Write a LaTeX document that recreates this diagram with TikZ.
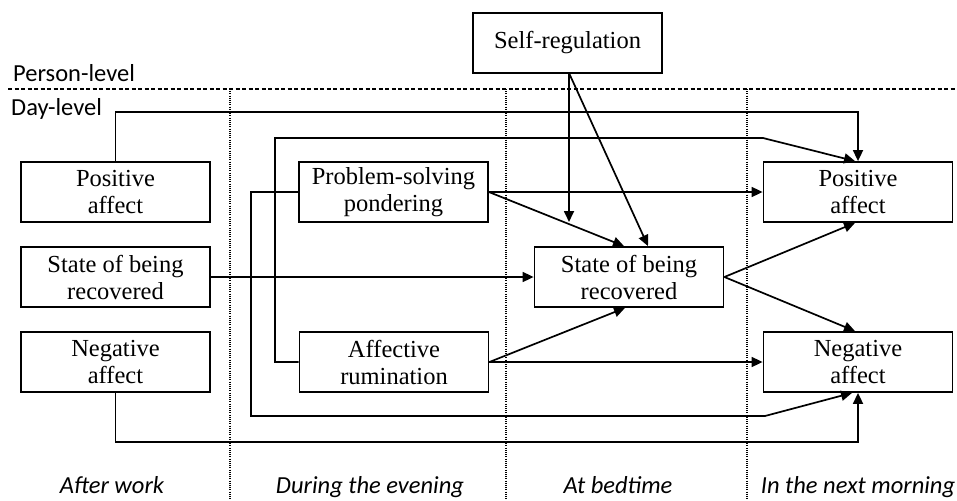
\documentclass[tikz,border=0pt]{standalone}
\usepackage{fontspec}
\setmainfont{Liberation Serif}
\newfontfamily\calfont{Carlito}
\usetikzlibrary{arrows.meta}
\begin{document}
\begin{tikzpicture}[x=1pt,y=-1pt,
  box/.style={draw,line width=1.8pt,rectangle,minimum width=189pt,minimum height=60pt,align=center,inner sep=0pt,font=\fontsize{24.5}{27}\selectfont},
  arr/.style={line width=1.7pt,-{Triangle[length=11pt,width=10pt]}},
  lab/.style={font=\calfont\fontsize{24.5}{27}\selectfont,inner sep=0pt},
  ilab/.style={font=\calfont\itshape\fontsize{24.5}{27}\selectfont,inner sep=0pt,anchor=base}]
\useasboundingbox (0,0) rectangle (957,500);
% level separators
\draw[line width=1.6pt,dash pattern=on 4pt off 2.5pt] (8,89) -- (957,89);
\foreach \x in {230,506,747} \draw[line width=1.4pt,dash pattern=on 1pt off 1.2pt] (\x,89) -- (\x,500);
\node[lab,anchor=base west] (pl) at (13,82) {Person-level};
\node[lab,anchor=base west] (dl) at (11,116) {Day-level};
% boxes
\node[box] (PAL) at (115.5,192) {Positive\\affect};
\node[box] (SRL) at (115.5,277) {State of being\\recovered};
\node[box] (NAL) at (115.5,362) {Negative\\affect};
\node[box] (PSP) at (393.5,192) {Problem-solving\\pondering};
\node[box] (AR) at (394,362) {Affective\\rumination};
\node[box] (SR) at (567.5,43) {Self-regulation};
\node[box] (PAR) at (858,192) {Positive\\affect};
\node[box] (SRM) at (629,277) {State of being\\recovered};
\node[box] (NAR) at (858,362) {Negative\\affect};
% bottom labels
\node[ilab] (t1) at (112,493) {After work};
\node[ilab] (t2) at (370,493) {During the evening};
\node[ilab] (t3) at (618,493) {At bedtime};
\node[ilab] (t4) at (858,493) {In the next morning};
% connectors
\coordinate (srb) at (569,73);
\coordinate (mod) at (569,222);
\draw[arr] (PAL.north) -- (115.5,112) -| (PAR.north);
\draw[arr] (AR.west) -- (275,362) -- (275,138) -- (763,138) -- ([xshift=-3pt]PAR.north);
\draw[arr] (PSP.west) -- (251,192) -- (251,416) -- (765,416) -- ([xshift=-6pt]NAR.south);
\draw[arr] (NAL.south) -- (115.5,442) -| (NAR.south);
\draw[arr] (SRL.east) -- (SRM.west);
\draw[arr] (PSP.east) -- (PAR.west);
\draw[arr] (PSP.east) -- ([xshift=-5pt]SRM.north);
\draw[arr] (AR.east) -- ([xshift=-4pt]SRM.south);
\draw[arr] (AR.east) -- (NAR.west);
\draw[arr] (SRM.east) -- ([xshift=-3pt]PAR.south);
\draw[arr] (SRM.east) -- ([xshift=-3pt]NAR.north);
\draw[arr] (srb) -- (mod);
\draw[arr] (srb) -- ([xshift=19pt]SRM.north);
\end{tikzpicture}
\end{document}
